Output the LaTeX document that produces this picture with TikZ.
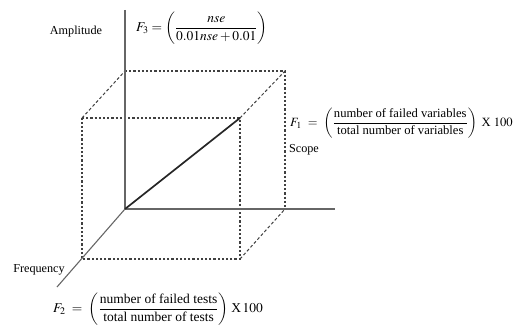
\documentclass[tikz,border=0pt]{standalone}
\usepackage{amsmath}
\usepackage{mathptmx}
\usepackage{fontspec}
\setmainfont{Liberation Serif}
\usetikzlibrary{positioning}

\begin{document}
\begin{tikzpicture}[x=1pt,y=-1pt,
	axis/.style={gray!80!black,line width=1.1pt},
	edge/.style={gray!50!black,line width=1.1pt,dash pattern=on 2.2pt off 2pt},
	slant/.style={gray!50!black,line width=1pt,dash pattern=on 3pt off 2.2pt},
	lbl/.style={font=\fontsize{13.5}{16}\selectfont,inner sep=0pt},
	word/.style={font=\fontsize{12.2}{14}\selectfont,inner sep=0pt}]
	\useasboundingbox (0,0) rectangle (517,329);
	
	% axes
	\coordinate (O) at (125,209);
	\coordinate (amp) at (125,10);
	\coordinate (scp) at (335,209);
	\coordinate (frq) at (57,287);
	
	% front face
	\coordinate (ftl) at (82,118);
	\coordinate (ftr) at (240,118);
	\coordinate (fbr) at (240,259);
	\coordinate (fbl) at (82,259);
	% back face
	\coordinate (btl) at (125,71);
	\coordinate (btr) at (285,71);
	\coordinate (bbr) at (285,209);
	
	\draw[edge] (ftl)--(ftr)--(fbr)--(fbl)--cycle;
	\draw[edge] (btl)--(btr)--(bbr);
	\draw[slant] (ftl)--(btl);
	\draw[slant] (ftr)--(btr);
	\draw[slant] (fbr)--(bbr);
	
	\draw[axis] (amp)--(O)--(scp);
	\draw[axis] (O)--(frq);
	\draw[black!85,line width=1.7pt] (O)--(ftr);
	
	\node[word] (ampl) at (76,32) {Amplitude};
	\node[word] (scope) at (304,150) {Scope};
	\node[word] (freq) at (39,270) {Frequency};
	
	\node[lbl,anchor=west] (f3) at (136,28)
	{$F_3 = \left(\dfrac{nse}{0.01nse + 0.01}\right)$};
	\node[lbl,anchor=west,font=\fontsize{12.6}{15}\selectfont] (f1) at (290,123)
	{$F_1\ =\ \left(\dfrac{\text{number of failed variables}}{\text{total number of variables}}\right)\ \text{X}\ 100$};
	\node[lbl,anchor=west] (f2) at (53,309)
	{$F_2\ =\ \left(\dfrac{\text{number of failed tests}}{\text{total number of tests}}\right)\,\text{X}\,100$};
\end{tikzpicture}
\end{document}
